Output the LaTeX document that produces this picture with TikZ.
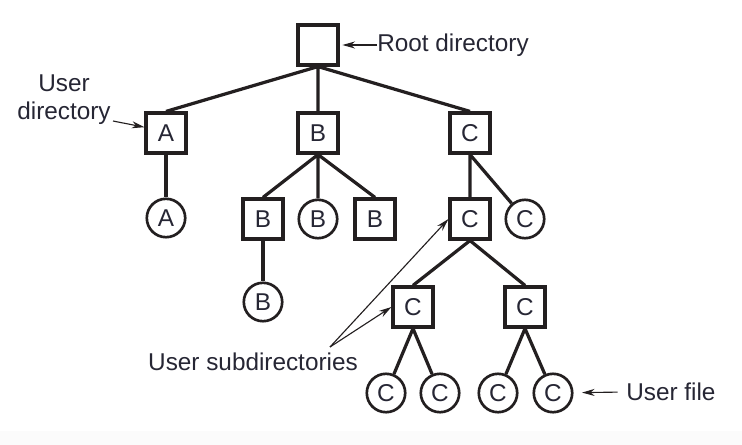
\documentclass[tikz,border=0pt]{standalone}
\usepackage{fontspec}
\setmainfont{Liberation Sans}
\usepackage{xcolor}
\usepackage{tikz}
\usetikzlibrary{arrows.meta}
\definecolor{inkline}{RGB}{35,31,32}
\definecolor{inktext}{RGB}{38,38,52}
\tikzset{
  folder/.style   = { draw=inkline, line width=2.8pt, rectangle, minimum size=0.98cm, inner sep=0pt, text=inktext },
  datafile/.style = { draw=inkline, line width=1.9pt, circle, minimum size=0.96cm, inner sep=0pt, text=inktext },
  branch/.style   = { draw=inkline, line width=2.3pt },
  callarrow/.style = { draw=inkline, line width=0.8pt, -{Stealth[length=9pt,width=5pt]} },
  notetext/.style = { text=inktext, inner sep=0pt }
}

\begin{document}
\begin{tikzpicture}[x=0.025cm, y=-0.025cm, font=\fontsize{17.3}{20}\selectfont]
  \useasboundingbox (0,0) rectangle (742,445);
  \fill[gray!3] (0,431) rectangle (742,445);
  % Draw all directories
  \node[folder] (root) at (318,45) {};
  \node[folder] (dA) at (166,133) {A};
  \node[folder] (dB) at (318,133) {B};
  \node[folder] (dC) at (470,133) {C};
  \node[folder] (dB1) at (263,219) {B};
  \node[folder] (dB2) at (375,219) {B};
  \node[folder] (dC1) at (470,219) {C};
  \node[folder] (dC2) at (413,307) {C};
  \node[folder] (dC3) at (525,307) {C};
  % Draw all files
  \node[datafile] (fA) at (166,218) {A};
  \node[datafile] (fB1) at (318,219) {B};
  \node[datafile] (fB2) at (263,302) {B};
  \node[datafile] (fC1) at (525,219) {C};
  \node[datafile] (fC2) at (386,393) {C};
  \node[datafile] (fC3) at (440,393) {C};
  \node[datafile] (fC4) at (498,393) {C};
  \node[datafile] (fC5) at (553,393) {C};
  % Draw branches
  \draw[branch] (root.south) -- (dA.north) (root.south) -- (dB.north) (root.south) -- (dC.north);
  \draw[branch, line width=3pt] (dA.south) -- (fA);
  \draw[branch] (dB.south) -- (dB1.north) (dB.south) -- (fB1) (dB.south) -- (dB2.north);
  \draw[branch] (dB1.south) -- (fB2);
  \draw[branch] (dC.south) -- (dC1.north) (dC.south) -- (fC1);
  \draw[branch] (dC1.south) -- (dC2.north) (dC1.south) -- (dC3.north);
  \draw[branch] (dC2.south) -- (fC2) (dC2.south) -- (fC3);
  \draw[branch] (dC3.south) -- (fC4) (dC3.south) -- (fC5);
  % Draw labels
  \node[notetext, anchor=west] (rootlbl) at (377,45) {Root directory};
  \node[notetext, align=center] (userdir) at (64,100) {User\\directory};
  \node[notetext] (subdirs) at (253,362) {User subdirectories};
  \node[notetext, anchor=west] (userfile) at (626,392) {User file};
  \coordinate (udtail) at (113,121);
  \coordinate (sdtail) at (330,347);
  % Draw annotations
  \draw[callarrow, shorten >=2pt] (rootlbl.west) -- (root.east);
  \draw[callarrow] (udtail) -- (dA.165);
  \draw[callarrow] (sdtail) -- (dC1.west);
  \draw[callarrow] (sdtail) -- (dC2.west);
  \draw[callarrow, shorten <=6pt, shorten >=6pt] (userfile.west) -- (fC5);
\end{tikzpicture}
\end{document}
